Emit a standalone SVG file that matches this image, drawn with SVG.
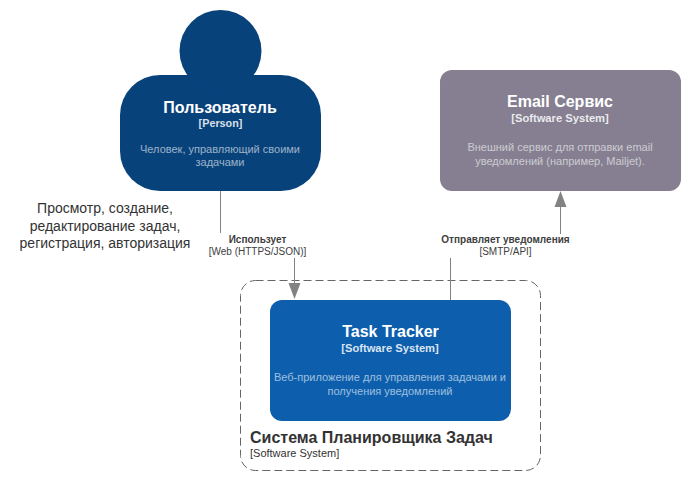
<svg xmlns="http://www.w3.org/2000/svg" width="691" height="481" viewBox="0 0 691 481">
<style>
text{font-family:"Liberation Sans",Arial,sans-serif;text-anchor:middle}
.t{font-size:16px;font-weight:bold;fill:#fff}
.k{font-size:11.200px;font-weight:bold;fill:#fff;fill-opacity:.85}
.d{font-size:11px;fill:#fff;fill-opacity:.6}
.e{stroke:#828282;stroke-width:1;fill:none}
.a{fill:#828282}
.l{font-size:10px;fill:#404040}
.lb{font-size:10px;font-weight:bold;fill:#404040}
</style>
<rect width="691" height="481" fill="#fff"/>
<g id="boundary">
<rect x="240.500" y="280.500" width="300" height="190" rx="15" fill="none" stroke="#666" stroke-dasharray="8 4"/>
<text x="250" y="443" style="text-anchor:start;font-size:16px;font-weight:bold;fill:#333">Система Планировщика Задач</text>
<text x="250" y="457" style="text-anchor:start;font-size:11px;fill:#333">[Software System]</text>
</g>
<g id="connectors">
<path class="e" d="M220.500 190V233M294.500 258V285"/>
<path class="a" d="M288.500 283H300.500L294.500 299Z"/>
<path class="e" d="M450.500 300V258M560.500 234V207"/>
<path class="a" d="M554.500 207H566.500L560.500 191Z"/>
<text class="lb" x="257.500" y="243">Использует</text>
<text class="l" x="257.500" y="255">[Web (HTTPS/JSON)]</text>
<text class="lb" x="505.500" y="243">Отправляет уведомления</text>
<text class="l" x="505.500" y="255">[SMTP/API]</text>
</g>
<g id="person">
<rect x="120" y="75" width="201" height="116" rx="40" fill="#08427b"/>
<circle cx="220.500" cy="51" r="41" fill="#08427b"/>
<text class="t" x="220" y="113">Пользователь</text>
<text class="k" x="220.500" y="127" style="font-size:10.800px">[Person]</text>
<text class="d" x="220" y="153">Человек, управляющий своими</text>
<text class="d" x="220" y="166">задачами</text>
</g>
<g id="email">
<rect x="440" y="70" width="241" height="121" rx="12" fill="#857f91"/>
<text class="t" x="560" y="107">Email Сервис</text>
<text class="k" x="560" y="122">[Software System]</text>
<text class="d" x="560" y="151">Внешний сервис для отправки email</text>
<text class="d" x="560" y="165">уведомлений (например, Mailjet).</text>
</g>
<g id="tracker">
<rect x="270" y="300" width="241" height="121" rx="12" fill="#0d5fae"/>
<text class="t" x="390.500" y="337">Task Tracker</text>
<text class="k" x="390" y="352">[Software System]</text>
<text class="d" x="390" y="381">Веб-приложение для управления задачами и</text>
<text class="d" x="390" y="395">получения уведомлений</text>
</g>
<g id="note">
<text x="105" y="213" style="font-size:14px;fill:#333">Просмотр, создание,</text>
<text x="105" y="231" style="font-size:14px;fill:#333">редактирование задач,</text>
<text x="105" y="248" style="font-size:14px;fill:#333">регистрация, авторизация</text>
</g>
</svg>
